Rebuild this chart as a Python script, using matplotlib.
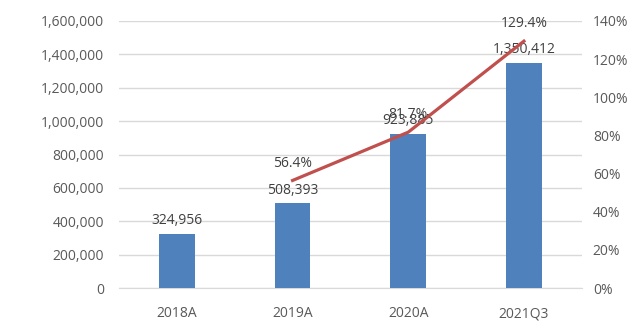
import matplotlib
matplotlib.use("Agg")
import matplotlib.pyplot as plt
from matplotlib.ticker import FuncFormatter

categories = ["2018A", "2019A", "2020A", "2021Q3"]
revenue = [324956, 508393, 923885, 1350412]
growth_cats = ["2019A", "2020A", "2021Q3"]
growth = [56.4, 81.7, 129.4]

plt.rcParams['font.family'] = ['Open Sans', 'DejaVu Sans']
txt = '#595959'
fs = 10

fig = plt.figure(figsize=(6.4, 3.27), dpi=100)
ax = fig.add_axes([0.186, 0.119, 0.723, 0.817])
x = list(range(len(categories)))
ax.bar(x, revenue, width=0.31, color='#4F81BD', zorder=3)
ax.set_xlim(-0.5, len(categories) - 0.5)
ax.set_ylim(0, 1600000)
ax.set_yticks(range(0, 1600001, 200000))
ax.yaxis.set_major_formatter(FuncFormatter(lambda v, p: f"{int(v):,}"))
ax.set_xticks(x)
ax.set_xticklabels(categories)
ax.grid(axis='y', color='#D9D9D9', lw=1, zorder=0)
for s in ['top', 'left', 'right']:
    ax.spines[s].set_visible(False)
ax.spines['bottom'].set_color('#D9D9D9')
ax.tick_params(axis='both', length=0, colors=txt, labelsize=fs)
ax.tick_params(axis='y', pad=11)
ax.tick_params(axis='x', pad=13)
for xi, v in zip(x, revenue):
    ax.annotate(f"{v:,}", (xi, v), xytext=(0, 4), textcoords='offset points',
                ha='center', va='bottom', color='#404040', fontsize=fs, zorder=5)

ax2 = ax.twinx()
gx = [categories.index(c) for c in growth_cats]
ax2.plot(gx, growth, color='#C0504D', lw=2.3, zorder=4)
ax2.set_ylim(0, 140)
ax2.set_yticks(range(0, 141, 20))
ax2.yaxis.set_major_formatter(FuncFormatter(lambda v, p: f"{int(v)}%"))
for s in ['top', 'left', 'right', 'bottom']:
    ax2.spines[s].set_visible(False)
ax2.tick_params(axis='y', length=0, colors=txt, labelsize=fs, pad=8)
for xi, v in zip(gx, growth):
    ax2.annotate(f"{v}%", (xi, v), xytext=(0, 7), textcoords='offset points',
                 ha='center', va='bottom', color='#404040', fontsize=fs, zorder=5)

fig.savefig("out.png", dpi=100, facecolor='white')
